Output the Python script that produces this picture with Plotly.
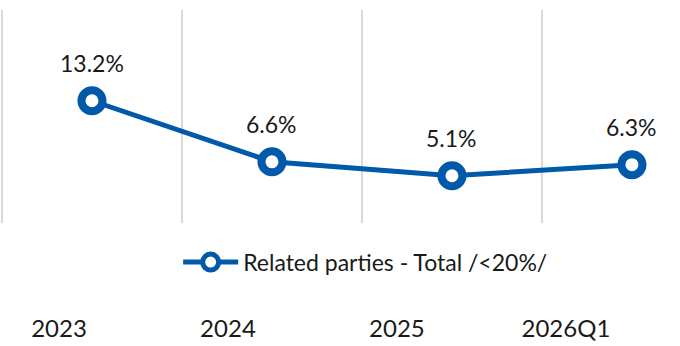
import plotly.graph_objects as go

# Share of related-party exposure by period
periods = ["2023", "2024", "2025", "2026Q1"]
related_total = [13.2, 6.6, 5.1, 6.3]
series_name = "Related parties - Total /<20%/"

BLUE = "#0059A9"
TEXT = "#1a1a1a"
FONT = "Lato"

fig = go.Figure()

idx = list(range(len(periods)))

fig.add_trace(go.Scatter(
    x=idx,
    y=related_total,
    mode="lines+markers",
    name=series_name,
    line=dict(color=BLUE, width=5),
    marker=dict(symbol="circle", size=21, color="white",
                line=dict(color=BLUE, width=8)),
    hoverinfo="skip",
))

# hidden helper trace so the bottom period axis gets drawn
fig.add_trace(go.Scatter(
    x=idx, y=[0] * len(idx), xaxis="x2", yaxis="y2",
    mode="markers", marker=dict(opacity=0),
    showlegend=False, hoverinfo="skip",
))

# value labels above each point
for i, v in zip(idx, related_total):
    fig.add_annotation(
        x=i, y=v, xref="x", yref="y",
        text=f"{v:.1f}%", showarrow=False,
        yanchor="bottom", yshift=22,
        font=dict(family=FONT, size=23, color=TEXT),
    )

fig.update_layout(
    width=680, height=346,
    margin=dict(l=0, r=0, t=10, b=30),
    paper_bgcolor="white", plot_bgcolor="white",
    font=dict(family=FONT, size=23, color=TEXT),
    showlegend=True,
    legend=dict(
        orientation="h",
        x=0.262, xanchor="left",
        y=0.176, yanchor="middle",
        font=dict(family=FONT, size=23, color=TEXT),
        itemwidth=55,
        bgcolor="rgba(0,0,0,0)",
    ),
    xaxis=dict(
        range=[-0.511, 3.267],
        tickmode="array",
        tickvals=[i - 0.5 for i in idx],
        showgrid=True, gridcolor="#d9d9d9", gridwidth=2,
        showticklabels=False, ticks="",
        showline=False, zeroline=False,
        fixedrange=True,
    ),
    yaxis=dict(
        domain=[0.304, 1],
        range=[0, 23],
        visible=False,
        showgrid=False, zeroline=False,
        fixedrange=True,
    ),
    # period labels along the bottom
    xaxis2=dict(
        anchor="y2",
        range=[-0.349, 3.675],
        tickmode="array",
        tickvals=idx,
        ticktext=periods,
        showgrid=False, zeroline=False, showline=False, ticks="",
        tickfont=dict(family=FONT, size=24, color=TEXT),
        fixedrange=True,
    ),
    yaxis2=dict(
        domain=[0.014, 0.024],
        range=[-1, 1],
        showgrid=False, zeroline=False, showline=False,
        showticklabels=False, ticks="",
        fixedrange=True,
    ),
)

fig.write_html("out.html")
